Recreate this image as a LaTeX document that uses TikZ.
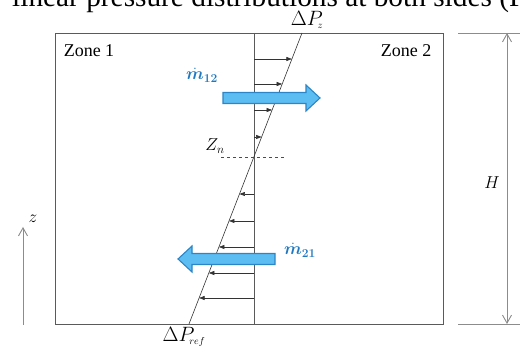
\documentclass[tikz,border=0pt]{standalone}
\usepackage{amsmath,amssymb,bm}
\usepackage{fontspec}
\setmainfont{Liberation Serif}
\usetikzlibrary{calc,arrows.meta,positioning}
\definecolor{flowfill}{HTML}{5CBDF2}
\definecolor{flowedge}{HTML}{2C85C6}
\definecolor{flowtext}{HTML}{1F78C1}
\definecolor{wallgray}{HTML}{5A5A5A}
\definecolor{dimgray}{HTML}{8C8C8C}

\begin{document}
\begin{tikzpicture}[x=1pt,y=-1pt,
		lbl/.style={font=\fontsize{18}{18}\selectfont},
		flow/.style={draw=flowedge,fill=flowfill,line width=1.1pt,line join=miter},
		press/.style={-{Triangle[length=5.5pt,width=4pt]},line width=0.6pt,black!80},
		dim/.style={{Straight Barb[length=8pt,width=9pt]}-{Straight Barb[length=8pt,width=9pt]},dimgray,line width=0.9pt}]
				\path[use as bounding box,clip]
				(0,0) rectangle (520,347);
				% cut-off line of text above the figure
				\node[anchor=base west,inner sep=0pt] (caption) at (12,7)
				{\resizebox{513pt}{!}{linear pressure distributions at both sides (F}};
				% zones
				\draw[wallgray,line width=0.9pt] (55,33) rectangle (443,324);
				\coordinate (wtop) at (254,33);
				\coordinate (wbot) at (254,324);
				\draw[wallgray,line width=0.8pt] (wtop) -- (wbot);
				\node[lbl] (zone1) at (89,51) {Zone 1};
				\node[lbl] (zone2) at (406,51) {Zone 2};
				% pressure profile
				\coordinate (ptop) at (302,33);
				\coordinate (pbot) at (189,324);
				\draw[line width=0.6pt,black!80] (ptop) -- (pbot);
				\foreach \yy in {59,84,110,137,194,221,247,273,298}
					{\pgfmathsetmacro{\xx}{302-(\yy-33)/291*113}
					\draw[press] (254,\yy) -- (\xx,\yy);}
				\draw[dashed,line width=0.5pt,black!70] (221,157) -- (286,157);
				\node[lbl] (zn) at (215,146) {$Z_n$};
				\node[lbl,font=\fontsize{20}{20}\selectfont] (dpz) at (307,20) {$\Delta P_{\!\scriptscriptstyle z}$};
				\node[lbl,font=\fontsize{20}{20}\selectfont] (dpref) at (184,337) {$\Delta P_{\!\scriptscriptstyle ref}$};
				% flows
				\draw[flow] (223,92.5) -- (306,92.5) -- (306,85) -- (320,98)
					-- (306,111) -- (306,103.5) -- (223,103.5) -- cycle;
				\draw[flow] (275,253.5) -- (192,253.5) -- (192,246) -- (178,259)
					-- (192,272) -- (192,264.5) -- (275,264.5) -- cycle;
				\node[lbl,text=flowtext] (m12) at (202,75) {$\bm{\dot m_{12}}$};
				\node[lbl,text=flowtext] (m21) at (300,250) {$\bm{\dot m_{21}}$};
				% height
				\draw[dimgray,line width=0.9pt] (458,33) -- (520,33);
				\draw[dimgray,line width=0.9pt] (458,324) -- (520,324);
				\coordinate (htop) at (507,33);
				\coordinate (hbot) at (507,324);
				\draw[dim] (htop) -- (hbot);
				\node[lbl] (hlab) at (492,183) {$H$};
				% vertical axis
				\coordinate (zbot) at (23,325);
				\coordinate (ztop) at (23,227);
				\draw[-{Straight Barb[length=8pt,width=9pt]},dimgray,line width=0.9pt] (zbot) -- (ztop);
				\node[lbl] (zlab) at (33,219) {$z$};
			\end{tikzpicture}
\end{document}
